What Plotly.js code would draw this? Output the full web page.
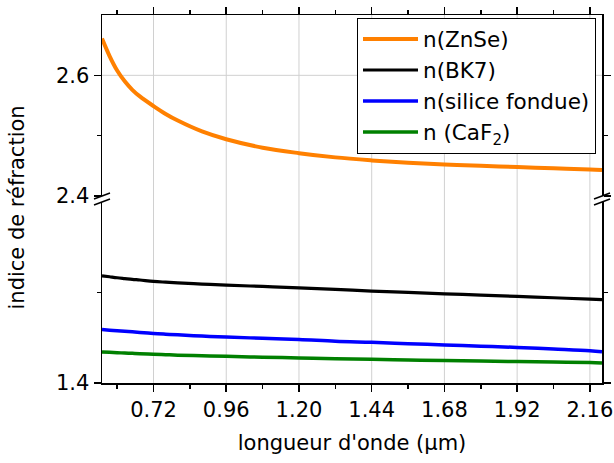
<!DOCTYPE html>
<html>
<head>
<meta charset="utf-8">
<script src="https://cdn.plot.ly/plotly-3.0.1.min.js"></script>
<style>html,body{margin:0;padding:0;background:#fff;}#chart{width:614px;height:463px;}</style>
</head>
<body>
<div id="chart"></div>
<script>
// Wavelength samples (µm)
const wavelength = [0.55, 0.575, 0.60, 0.625, 0.65, 0.675, 0.72, 0.76, 0.80, 0.88, 0.96, 1.08, 1.20, 1.32, 1.44, 1.56, 1.68, 1.80, 1.92, 2.04, 2.16, 2.20];
// Refractive indices
const nZnSe   = [2.661, 2.632, 2.608, 2.590, 2.576, 2.565, 2.549, 2.536, 2.525, 2.507, 2.494, 2.480, 2.471, 2.464, 2.459, 2.455, 2.452, 2.450, 2.448, 2.446, 2.444, 2.443];
const nBK7    = [1.5185, 1.5174, 1.5163, 1.5154, 1.5145, 1.5138, 1.5123, 1.5114, 1.5106, 1.5093, 1.5082, 1.5067, 1.5052, 1.5035, 1.5015, 1.5001, 1.4986, 1.4972, 1.4957, 1.4942, 1.4927, 1.4921];
const nSilice = [1.4591, 1.4584, 1.4578, 1.4571, 1.4565, 1.4559, 1.4547, 1.4539, 1.4532, 1.4519, 1.4508, 1.4494, 1.4481, 1.4461, 1.4449, 1.4435, 1.4421, 1.4407, 1.4393, 1.4375, 1.4356, 1.4346];
const nCaF2   = [1.4343, 1.4339, 1.4335, 1.4331, 1.4328, 1.4324, 1.4318, 1.4313, 1.4308, 1.4301, 1.4295, 1.4285, 1.4277, 1.4268, 1.4262, 1.4255, 1.4248, 1.4242, 1.4237, 1.4232, 1.4226, 1.4221];

const seriesNames = ['n(ZnSe)', 'n(BK7)', 'n(silice fondue)', 'n (CaF<sub>2</sub>)'];
const xTicks = [0.72, 0.96, 1.20, 1.44, 1.68, 1.92, 2.16];
const xTickText = ['0.72', '0.96', '1.20', '1.44', '1.68', '1.92', '2.16'];
const xMinorTicks = [0.60, 0.84, 1.08, 1.32, 1.56, 1.80, 2.04];
const yTopTicks = [2.4, 2.6];
const yTopTickText = ['2.4', '2.6'];
const yTopMinor = [2.5];
const yTopGrid = [2.6];
const yBotTicks = [1.4];
const yBotTickText = ['1.4'];
const yBotMinor = [1.5];

const FONT = 'DejaVu Sans';
const FS = 21;
const botTop = 0.4918, topBot = 0.5082;

const traces = [
  {x: wavelength, y: nZnSe, name: seriesNames[0], xaxis: 'x2', yaxis: 'y2', mode: 'lines',
   line: {color: '#ff8000', width: 4, shape: 'spline', smoothing: 1}},
  {x: wavelength, y: nBK7, name: seriesNames[1], xaxis: 'x', yaxis: 'y', mode: 'lines',
   line: {color: '#000000', width: 3.2, shape: 'spline', smoothing: 1}},
  {x: wavelength, y: nSilice, name: seriesNames[2], xaxis: 'x', yaxis: 'y', mode: 'lines',
   line: {color: '#0000ff', width: 3.5, shape: 'spline', smoothing: 1}},
  {x: wavelength, y: nCaF2, name: seriesNames[3], xaxis: 'x', yaxis: 'y', mode: 'lines',
   line: {color: '#008000', width: 3.5, shape: 'spline', smoothing: 1}}
];

const axCommon = {showline: true, linecolor: '#000', linewidth: 1.5, showgrid: false, zeroline: false,
  ticks: 'outside', ticklen: 7, tickwidth: 1.5, tickcolor: '#000'};

const shapes = [];
xTicks.forEach(v => shapes.push({type: 'line', layer: 'below', xref: 'x', yref: 'paper',
  x0: v, x1: v, y0: 0, y1: 1, line: {color: '#d0d0d0', width: 1}}));
yTopGrid.forEach(v => shapes.push({type: 'line', layer: 'below', xref: 'paper', yref: 'y2',
  x0: 0, x1: 1, y0: v, y1: v, line: {color: '#d0d0d0', width: 1}}));
// axis-break marks
[0, 1].forEach(xa => [botTop, topBot].forEach(ya => shapes.push({
  type: 'line', xref: 'paper', yref: 'paper', xsizemode: 'pixel', ysizemode: 'pixel',
  xanchor: xa, yanchor: ya, x0: -8, x1: 8, y0: -3, y1: 3,
  line: {color: '#000', width: 1.5}})));

const layout = {
  width: 614, height: 463,
  margin: {l: 102, r: 12, t: 15, b: 80},
  paper_bgcolor: '#fff', plot_bgcolor: 'rgba(0,0,0,0)',
  font: {family: FONT, size: FS, color: '#000'},
  showlegend: true,
  legend: {x: 0.51, y: 0.993, xanchor: 'left', yanchor: 'top', bgcolor: '#fff',
    bordercolor: '#000', borderwidth: 1, itemwidth: 55, font: {family: FONT, size: 21.5}},
  xaxis: Object.assign({}, axCommon, {domain: [0, 1], anchor: 'y', range: [0.55, 2.2],
    tickmode: 'array', tickvals: xTicks, ticktext: xTickText,
    minor: {tickmode: 'array', tickvals: xMinorTicks, ticks: 'outside', ticklen: 4, tickcolor: '#000', showgrid: false},
    title: {text: "longueur d'onde (µm)", font: {family: FONT, size: FS}, standoff: 14}}),
  xaxis2: Object.assign({}, axCommon, {domain: [0, 1], anchor: 'y2', matches: 'x', side: 'top',
    showticklabels: false, tickmode: 'array', tickvals: xTicks,
    minor: {tickmode: 'array', tickvals: xMinorTicks, ticks: 'outside', ticklen: 4, tickcolor: '#000', showgrid: false}}),
  yaxis: Object.assign({}, axCommon, {domain: [0, botTop], anchor: 'x', range: [1.4, 1.6], mirror: 'ticks',
    tickmode: 'array', tickvals: yBotTicks, ticktext: yBotTickText,
    minor: {tickmode: 'array', tickvals: yBotMinor, ticks: 'outside', ticklen: 4, tickcolor: '#000', showgrid: false}}),
  yaxis2: Object.assign({}, axCommon, {domain: [topBot, 1], anchor: 'x2', range: [2.4, 2.7], mirror: 'ticks',
    tickmode: 'array', tickvals: yTopTicks, ticktext: yTopTickText,
    minor: {tickmode: 'array', tickvals: yTopMinor, ticks: 'outside', ticklen: 4, tickcolor: '#000', showgrid: false}}),
  shapes: shapes,
  annotations: [{text: 'indice de réfraction', textangle: -90, xref: 'paper', yref: 'paper',
    x: 0, y: 0.4755, xanchor: 'center', yanchor: 'middle', xshift: -84.5, showarrow: false,
    font: {family: FONT, size: FS}}]
};

Plotly.newPlot('chart', traces, layout, {staticPlot: true, displayModeBar: false});
</script>
</body>
</html>
